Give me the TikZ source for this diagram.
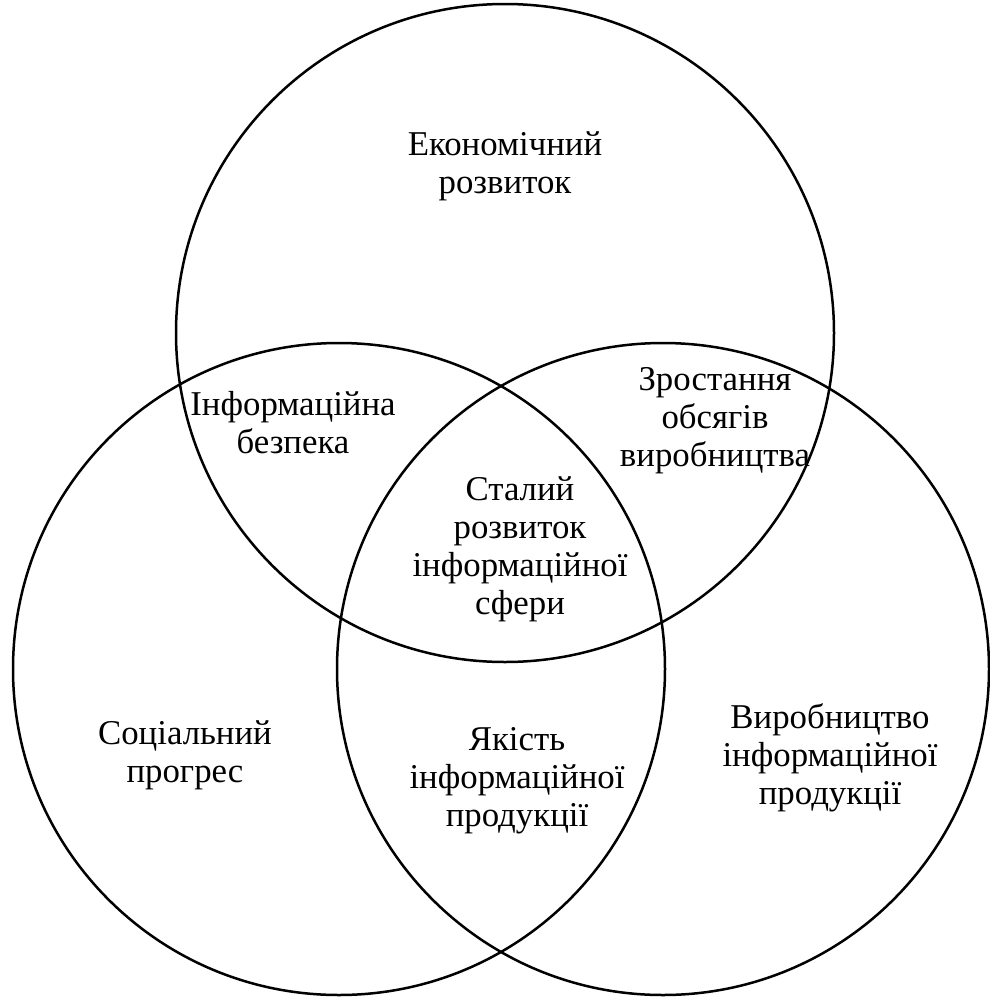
\documentclass[tikz,border=0pt]{standalone}
\usepackage{fontspec}
\setmainfont{Liberation Serif}
\begin{document}
\begin{tikzpicture}[x=0.5pt,y=-0.5pt,
  ring/.style={draw=black,line width=1.25pt},
  lbl/.style={align=center,inner sep=0pt,font=\fontsize{17.4}{19}\selectfont}]
\useasboundingbox (0,0) rectangle (990,997);
\draw[ring] (505,333) circle[radius=164.5pt];
\draw[ring] (339,669) circle[radius=163pt];
\draw[ring] (663,669) circle[radius=163pt];
\node[lbl] (econ) at (505,166) {Економічний\\розвиток};
\node[lbl] (bezp) at (293,423) {Інформаційна\\безпека};
\node[lbl] (zrost) at (715,421) {Зростання\\обсягів\\виробництва};
\node[lbl] (stal) at (520,549) {Сталий\\розвиток\\інформаційної\\сфери};
\node[lbl] (soc) at (185,755) {Соціальний\\прогрес};
\node[lbl] (yak) at (517,781) {Якість\\інформаційної\\продукції};
\node[lbl] (vyr) at (830,758) {Виробництво\\інформаційної\\продукції};
\end{tikzpicture}
\end{document}
